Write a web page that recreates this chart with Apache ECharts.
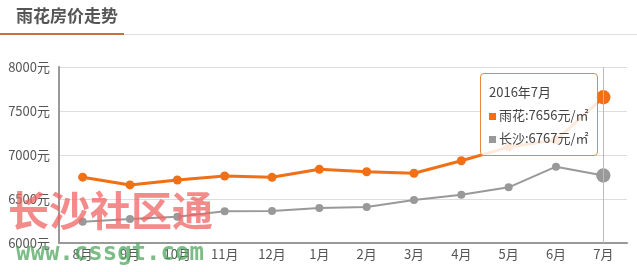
<!DOCTYPE html>
<html><head><meta charset="utf-8">
<script src="https://cdn.jsdelivr.net/npm/echarts@6/dist/echarts.min.js"></script>
<style>html,body{margin:0;padding:0;background:#fff}#c{width:637px;height:272px}</style>
</head><body><div id="c"></div>
<script>
var categories = ["8月","9月","10月","11月","12月","1月","2月","3月","4月","5月","6月","7月"];
var periods = ["2015年8月","2015年9月","2015年10月","2015年11月","2015年12月","2016年1月","2016年2月","2016年3月","2016年4月","2016年5月","2016年6月","2016年7月"];
var yuhua = [6748, 6660, 6716, 6762, 6746, 6838, 6810, 6792, 6935, 7090, 7170, 7656];
var changsha = [6242, 6273, 6299, 6360, 6364, 6398, 6409, 6489, 6549, 6633, 6867, 6767];
var seriesNames = ["雨花", "长沙"];
var titleText = "雨花房价走势";

var hot = categories.length - 1;
function mk(arr, big) { return arr.map(function(v, i){ return i === hot ? {value: v, symbolSize: big} : v; }); }

var chart = echarts.init(document.getElementById('c'));
chart.setOption({
  animation: false,
  grid: {left: 59, right: 10, top: 67, bottom: 29},
  xAxis: {
    type: 'category', data: categories, boundaryGap: true,
    axisLine: {lineStyle: {color: '#999', width: 2}},
    axisTick: {show: false},
    axisLabel: {color: '#555', fontSize: 13, margin: 5, fontFamily: 'Noto Sans CJK SC'}
  },
  yAxis: {
    type: 'value', min: 6000, max: 8000, interval: 500,
    axisLine: {show: true, lineStyle: {color: '#999', width: 2}},
    axisTick: {show: false},
    splitLine: {lineStyle: {color: '#ddd'}},
    axisLabel: {color: '#555', fontSize: 13, margin: 9, formatter: function(v){ return v + '元'; }, fontFamily: 'Noto Sans CJK SC'}
  },
  tooltip: {
    trigger: 'axis', alwaysShowContent: true, position: [480, 73],
    backgroundColor: 'rgba(255,255,255,0.85)', borderColor: '#e8893a', borderWidth: 1,
    padding: [6, 8], extraCssText: 'border-radius:4px;box-shadow:none;line-height:23px;',
    textStyle: {color: '#444', fontSize: 13, fontFamily: 'Noto Sans CJK SC'},
    axisPointer: {type: 'line', lineStyle: {color: '#bbb', width: 1, type: 'solid'}},
    formatter: function(ps) {
      var s = periods[ps[0].dataIndex];
      ps.forEach(function(p){
        s += '<br/><span style="display:inline-block;width:7px;height:7px;background:' + p.color + ';margin-right:3px;vertical-align:middle"></span>' + p.seriesName + ':' + p.value + '元/㎡';
      });
      return s;
    }
  },
  series: [
    {name: seriesNames[0], type: 'line', data: mk(yuhua, 13), color: '#ef7016', symbol: 'circle', symbolSize: 9,
     lineStyle: {width: 3}, z: 3, emphasis: {disabled: true}},
    {name: seriesNames[1], type: 'line', data: mk(changsha, 13), color: '#999999', symbol: 'circle', symbolSize: 8,
     lineStyle: {width: 2}, z: 2, emphasis: {disabled: true}}
  ],
  graphic: [
    {type: 'text', left: 16, top: 7, style: {text: titleText, fontSize: 17, fontWeight: 'bold', fill: '#555', fontFamily: 'Noto Sans CJK SC'}},
    {type: 'rect', shape: {x: 123, y: 34, width: 514, height: 1}, style: {fill: '#ddd'}},
    {type: 'rect', shape: {x: 0, y: 33, width: 124, height: 2}, style: {fill: '#c8703a'}},
    {type: 'text', x: 8, y: 190, z: 100, style: {text: '长沙社区通', fontSize: 41, fontWeight: 'bold', fill: 'rgba(240,100,100,0.75)', fontFamily: 'Noto Sans CJK SC'}},
    {type: 'text', x: 16, y: 242, z: 100, style: {text: 'www.cssgt.com', fontSize: 24, fontWeight: 'bold', fill: 'rgba(80,165,95,0.75)', fontFamily: 'DejaVu Sans Mono'}}
  ]
});
chart.dispatchAction({type: 'showTip', seriesIndex: 0, dataIndex: hot});
</script></body></html>
